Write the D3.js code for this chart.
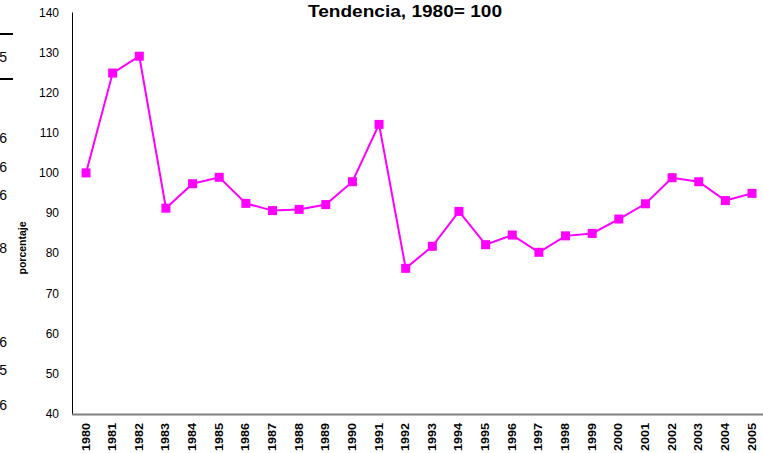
<!DOCTYPE html>
<html lang="es">
<head>
    <meta content="text/html; charset=utf-8" http-equiv="content-type"/>
    <title>Tendencia, 1980= 100</title>
    <script src="https://d3js.org/d3.v7.min.js"></script>
    <style>
        body { margin: 0; background: #fff; }
        svg { display: block; font-family: Arial, "Liberation Sans", sans-serif; }
    </style>
</head>
<body>
<div id="chart"></div>

<script>

// data
var years = ["1980","1981","1982","1983","1984","1985","1986","1987","1988","1989",
             "1990","1991","1992","1993","1994","1995","1996","1997","1998","1999",
             "2000","2001","2002","2003","2004","2005"];
var values = [100, 124.9, 129.1, 91.2, 97.3, 98.9, 92.4, 90.6, 90.9, 92.1,
              97.8, 112.1, 76.2, 81.7, 90.4, 82.1, 84.5, 80.2, 84.3, 84.9,
              88.5, 92.3, 98.8, 97.8, 93.1, 94.9];
var yTicks = [40, 50, 60, 70, 80, 90, 100, 110, 120, 130, 140];

// bits of the neighbouring table cut off at the left edge
var edgeDigits = [["5", 57], ["6", 138], ["6", 167], ["6", 195], ["8", 248], ["6", 342], ["5", 370], ["6", 405]];
var edgeRules = [34, 79];

var width = 763, height = 453;
var plotLeft = 72.7, plotTop = 12.5, plotBottom = 413.5;

var svg = d3.select("#chart")
  .append("svg")
    .attr("width", width)
    .attr("height", height);

// scales
var x = d3.scaleBand()
  .domain(years)
  .range([plotLeft, plotLeft + years.length * 26.64])
  .padding(0);

var y = d3.scaleLinear()
  .domain([40, 140])
  .range([plotBottom, plotTop]);

function cx(d) { return x(d) + x.bandwidth() / 2; }

// left edge fragments
svg.selectAll("line.edge")
  .data(edgeRules)
  .enter()
  .append("line")
    .attr("class", "edge")
    .attr("x1", 0).attr("x2", 13)
    .attr("y1", function(d) { return d; })
    .attr("y2", function(d) { return d; })
    .attr("stroke", "#000")
    .attr("stroke-width", 2);

svg.selectAll("text.edge")
  .data(edgeDigits)
  .enter()
  .append("text")
    .attr("class", "edge")
    .attr("x", 7)
    .attr("y", function(d) { return d[1]; })
    .attr("dy", "0.35em")
    .attr("text-anchor", "end")
    .style("font-size", "14px")
    .text(function(d) { return d[0]; });

// Y axis labels
var yAxis = svg.append("g")
  .attr("transform", "translate(59,0)")
  .call(d3.axisLeft(y).tickValues(yTicks).tickSize(0).tickPadding(0));
yAxis.select(".domain").remove();
yAxis.selectAll("text")
  .style("font-size", "12px")
  .style("font-family", "Arial, 'Liberation Sans', sans-serif")
  .attr("fill", "#000");

// X axis labels
var xAxis = svg.append("g")
  .attr("transform", "translate(0,423)")
  .call(d3.axisBottom(x).tickSize(0).tickPadding(0));
xAxis.select(".domain").remove();
xAxis.selectAll("text")
  .attr("transform", "rotate(-90)")
  .attr("x", 0)
  .attr("y", 0)
  .attr("dy", "0.35em")
  .attr("text-anchor", "end")
  .attr("textLength", 28)
  .attr("lengthAdjust", "spacingAndGlyphs")
  .style("font-size", "10px")
  .style("font-weight", "bold")
  .style("font-family", "Arial, 'Liberation Sans', sans-serif")
  .attr("fill", "#000");

// axis lines
svg.append("line")
  .attr("x1", 72.5).attr("x2", 72.5)
  .attr("y1", plotTop).attr("y2", plotBottom + 1)
  .attr("stroke", "#000")
  .attr("stroke-width", 1);

svg.append("line")
  .attr("x1", 72).attr("x2", width)
  .attr("y1", plotBottom + 1).attr("y2", plotBottom + 1)
  .attr("stroke", "#808080")
  .attr("stroke-width", 2);

// the line
svg.append("path")
  .datum(values)
  .attr("fill", "none")
  .attr("stroke", "#ff00ff")
  .attr("stroke-width", 2)
  .attr("d", d3.line()
    .x(function(d, i) { return cx(years[i]); })
    .y(function(d) { return y(d); }));

// square markers
svg.selectAll("rect.mark")
  .data(values)
  .enter()
  .append("rect")
    .attr("class", "mark")
    .attr("x", function(d, i) { return cx(years[i]) - 4.5; })
    .attr("y", function(d) { return y(d) - 4.5; })
    .attr("width", 9)
    .attr("height", 9)
    .attr("fill", "#ff00ff");

// title
svg.append("text")
  .attr("x", 405)
  .attr("y", 17)
  .attr("text-anchor", "middle")
  .attr("textLength", 194)
  .attr("lengthAdjust", "spacingAndGlyphs")
  .style("font-size", "16px")
  .style("font-weight", "bold")
  .text("Tendencia, 1980= 100");

// y axis title
svg.append("text")
  .attr("transform", "translate(22,248) rotate(-90)")
  .attr("text-anchor", "middle")
  .attr("dy", "0.35em")
  .attr("textLength", 53)
  .attr("lengthAdjust", "spacingAndGlyphs")
  .style("font-size", "10px")
  .style("font-weight", "bold")
  .text("porcentaje");

</script>
</body>
</html>
